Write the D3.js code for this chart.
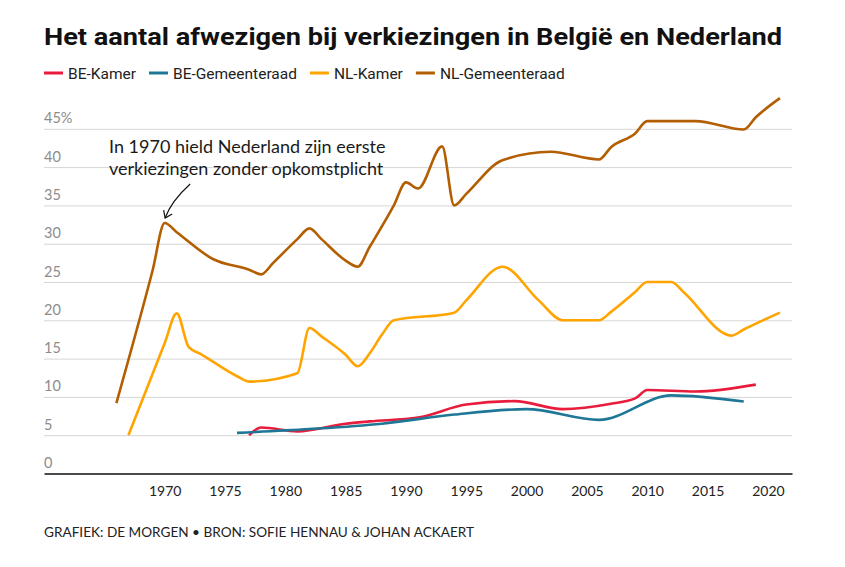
<!DOCTYPE html>
<html><head><meta charset="utf-8">
<script src="https://cdn.jsdelivr.net/npm/d3@7"></script>
<style>body{margin:0;background:#fff} svg{display:block}</style>
</head><body><svg id="c" width="845" height="567"></svg>
<script>
// ---- data ----
const seriesNames = ["BE-Kamer", "BE-Gemeenteraad", "NL-Kamer", "NL-Gemeenteraad"];
const seriesColors = ["#e81c3c", "#1e7796", "#ffa400", "#b35e00"];

const beKamerYears  = [1977, 1978, 1981, 1985, 1987, 1991, 1995, 1999, 2003, 2007, 2009, 2010, 2014, 2019];
const beKamerValues = [5.0, 6.0, 5.5, 6.5, 6.8, 7.3, 9.0, 9.45, 8.4, 9.1, 9.8, 10.9, 10.7, 11.6];

const beGemYears  = [1976, 1982, 1988, 1994, 2000, 2006, 2012, 2018];
const beGemValues = [5.3, 5.8, 6.5, 7.7, 8.4, 7.0, 10.2, 9.4];

const nlKamerYears  = [1967, 1970, 1971, 1972, 1973, 1976, 1977, 1981, 1982, 1983, 1985, 1986, 1987, 1988, 1989, 1994, 1995, 1998, 2001, 2003, 2006, 2007, 2009, 2010, 2012, 2013, 2017, 2018, 2021];
const nlKamerValues = [5.0, 17.0, 20.9, 16.5, 15.6, 12.7, 12.0, 13.1, 19.0, 17.9, 15.5, 14.0, 15.7, 18.1, 20.0, 21.0, 22.6, 27.0, 22.6, 20.0, 20.0, 21.1, 23.7, 25.0, 25.0, 23.7, 18.0, 18.8, 21.0];

const nlGemYears  = [1966, 1969, 1970, 1971, 1974, 1977, 1978, 1979, 1981, 1982, 1983, 1985, 1986, 1987, 1989, 1990, 1991, 1993, 1994, 1995, 1998, 2002, 2006, 2007, 2009, 2010, 2014, 2018, 2019, 2021];
const nlGemValues = [9.2, 26.5, 32.7, 31.5, 28.0, 26.6, 26.0, 27.5, 30.6, 32.0, 30.6, 27.8, 27.0, 29.6, 35.0, 38.0, 37.2, 42.7, 35.0, 36.5, 40.9, 42.0, 41.0, 42.6, 44.4, 46.0, 46.0, 44.9, 46.5, 49.0];

const yTicks = [0, 5, 10, 15, 20, 25, 30, 35, 40, 45];
const yTickLabels = ["0", "5", "10", "15", "20", "25", "30", "35", "40", "45%"];
const xTicks = [1970, 1975, 1980, 1985, 1990, 1995, 2000, 2005, 2010, 2015, 2020];

const titleText = "Het aantal afwezigen bij verkiezingen in België en Nederland";
const annotationLines = ["In 1970 hield Nederland zijn eerste", "verkiezingen zonder opkomstplicht"];
const sourceText = "GRAFIEK: DE MORGEN \u2022 BRON: SOFIE HENNAU & JOHAN ACKAERT";

// ---- chart ----
(function () {
const svg = d3.select("#c");
const mLeft = 44, mRight = 792, mTop = 128.8, mBottom = 473.5;
const x = d3.scaleLinear().domain([1960, 2022]).range([mLeft, mRight]);
const y = d3.scaleLinear().domain([0, 45]).range([mBottom, mTop]);

const series = [
  {name: seriesNames[0], color: seriesColors[0], years: beKamerYears, values: beKamerValues},
  {name: seriesNames[1], color: seriesColors[1], years: beGemYears, values: beGemValues},
  {name: seriesNames[2], color: seriesColors[2], years: nlKamerYears, values: nlKamerValues},
  {name: seriesNames[3], color: seriesColors[3], years: nlGemYears, values: nlGemValues}
];

// title
svg.append("text").attr("x", mLeft).attr("y", 45)
  .attr("font-family", "Roboto, sans-serif").attr("font-weight", 700)
  .attr("font-size", 24).attr("fill", "#111")
  .attr("textLength", 738).attr("lengthAdjust", "spacingAndGlyphs")
  .text(titleText);

// legend
let lx = mLeft;
series.forEach(s => {
  const g = svg.append("g");
  g.append("line").attr("x1", lx).attr("x2", lx + 19).attr("y1", 73).attr("y2", 73)
    .attr("stroke", s.color).attr("stroke-width", 3);
  const t = g.append("text").attr("x", lx + 24).attr("y", 78.5)
    .attr("font-family", "Roboto, sans-serif").attr("font-size", 15.5).attr("fill", "#222")
    .text(s.name);
  lx += 24 + t.node().getComputedTextLength() + 13;
});

// grid
const yAxis = d3.axisLeft(y).tickValues(yTicks.filter(d => d > 0)).tickSize(-(mRight - mLeft)).tickFormat("");
const gy = svg.append("g").attr("transform", `translate(${mLeft},0)`).call(yAxis);
gy.select(".domain").remove();
gy.selectAll(".tick line").attr("stroke", "#d6d6d6").attr("stroke-width", 1);

// y labels
svg.append("g").selectAll("text").data(yTicks).join("text")
  .attr("x", mLeft).attr("y", d => y(d) - 5.5)
  .attr("font-family", "Lato, sans-serif").attr("font-size", 14.5).attr("fill", "#8c8c8c")
  .text((d, i) => yTickLabels[i]);

// x axis
const xAxis = d3.axisBottom(x).tickValues(xTicks).tickSize(0).tickPadding(13).tickFormat(d3.format("d"));
const gx = svg.append("g").attr("transform", `translate(0,${mBottom})`).call(xAxis);
gx.select(".domain").attr("stroke", "#111").attr("stroke-width", 1.5);
gx.selectAll(".tick text").attr("font-family", "Lato, sans-serif").attr("font-size", 14).attr("fill", "#222");

// lines
const line = d3.line().x(d => x(d[0])).y(d => y(d[1])).curve(d3.curveMonotoneX);
series.forEach(s => {
  svg.append("path").datum(s.years.map((yr, i) => [yr, s.values[i]]))
    .attr("d", line).attr("fill", "none").attr("stroke", s.color)
    .attr("stroke-width", 2.6).attr("stroke-linejoin", "round").attr("stroke-linecap", "butt");
});

// annotation
const ann = svg.append("text").attr("font-family", "Lato, sans-serif").attr("font-size", 18).attr("fill", "#1a1a1a");
annotationLines.forEach((l, i) => {
  ann.append("tspan").attr("x", 109).attr("y", 153 + i * 21.5).text(l);
});
// arrow to the 1970 peak
const px = x(1970) + 0.5, py = y(32.7) - 5;
svg.append("path")
  .attr("d", `M${px + 25},${py - 34} C${px + 14},${py - 24} ${px + 5},${py - 14} ${px},${py}`)
  .attr("fill", "none").attr("stroke", "#111").attr("stroke-width", 1.2);
svg.append("path")
  .attr("d", `M${px - 1.5},${py - 8} L${px},${py} L${px + 7},${py - 4}`)
  .attr("fill", "none").attr("stroke", "#111").attr("stroke-width", 1.2);

// source
svg.append("text").attr("x", mLeft).attr("y", 537)
  .attr("font-family", "Lato, sans-serif").attr("font-size", 13.6).attr("fill", "#222")
  .text(sourceText);
})();
</script></body></html>
